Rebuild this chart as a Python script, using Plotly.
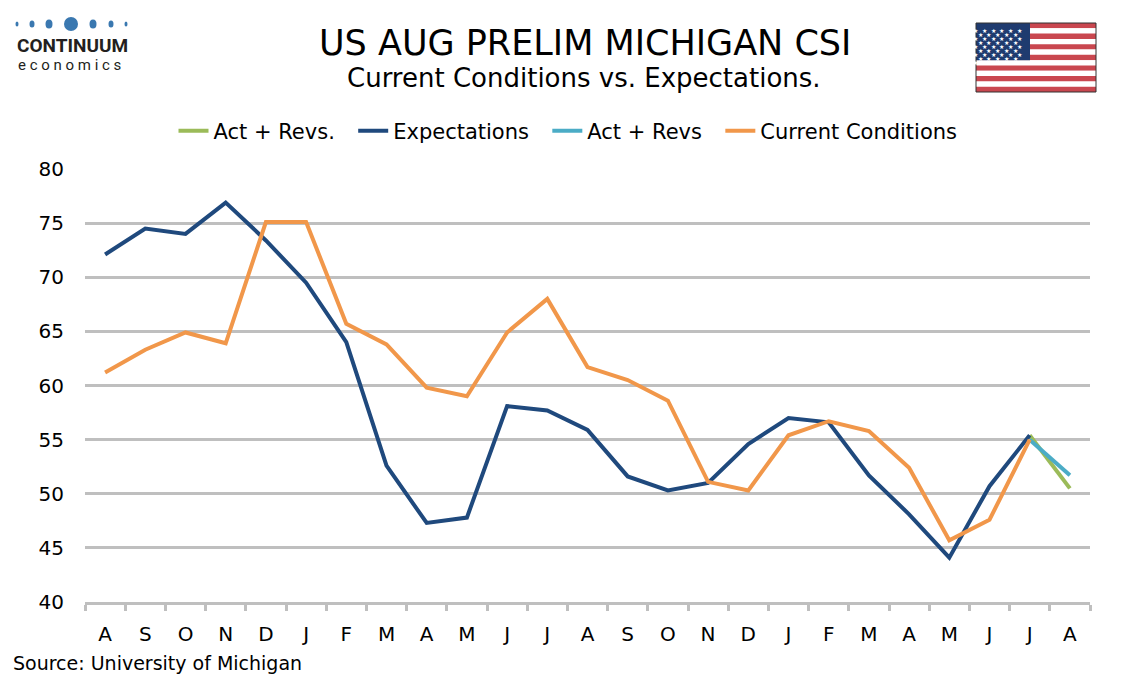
import plotly.graph_objects as go

months = ["A", "S", "O", "N", "D", "J", "F", "M", "A", "M", "J", "J",
          "A", "S", "O", "N", "D", "J", "F", "M", "A", "M", "J", "J", "A"]
expectations = [72.1, 74.5, 74.0, 76.9, 73.4, 69.5, 64.0, 52.6, 47.3, 47.8,
                58.1, 57.7, 55.9, 51.6, 50.3, 51.0, 54.6, 57.0, 56.6, 51.7,
                48.1, 44.1, 50.7, 55.4, None]
current = [61.2, 63.3, 64.9, 63.9, 75.1, 75.1, 65.7, 63.8, 59.8, 59.0,
           64.9, 68.0, 61.7, 60.5, 58.6, 51.1, 50.3, 55.4, 56.7, 55.8,
           52.4, 45.7, 47.6, 55.0, None]
act_revs_dot = [None] * 23 + [55.4, 50.5]
act_revs = [None] * 23 + [55.0, 51.7]
yticks = [40, 45, 50, 55, 60, 65, 70, 75, 80]

NAVY = "#1F497D"
ORANGE = "#F1974A"
GREEN = "#9BBB59"
LBLUE = "#4BACC6"
FONT = "DejaVu Sans"

# page body margin shifts the figure by 8px
OFF = 8
W, H = 1134 - OFF, 680 - OFF
# plot area in reference pixels
L, R, T, B = 85, 1090, 169, 602


def px(x):
    return (x - L) / (R - L)


def py(y):
    return (B - y) / (B - T)


def main():
    xs = list(range(len(months)))
    fig = go.Figure()
    fig.add_trace(go.Scatter(x=xs, y=act_revs_dot, mode="lines", name="Act + Revs.  ",
                             line=dict(color=GREEN, width=4)))
    fig.add_trace(go.Scatter(x=xs, y=expectations, mode="lines", name="Expectations  ",
                             line=dict(color=NAVY, width=4)))
    fig.add_trace(go.Scatter(x=xs, y=act_revs, mode="lines", name="Act + Revs  ",
                             line=dict(color=LBLUE, width=4)))
    fig.add_trace(go.Scatter(x=xs, y=current, mode="lines", name="Current Conditions",
                             line=dict(color=ORANGE, width=4)))

    shapes = []
    annotations = []

    # US flag (top right)
    fx0, fx1, fy0, fy1 = 976, 1096, 23, 92
    sh = (fy1 - fy0) / 13
    for i in range(13):
        shapes.append(dict(type="rect", xref="paper", yref="paper",
                           x0=px(fx0), x1=px(fx1),
                           y0=py(fy0 + i * sh), y1=py(fy0 + (i + 1) * sh),
                           fillcolor="#C9474F" if i % 2 == 0 else "white",
                           line=dict(width=0)))
    cx1, cy1 = 1030, fy0 + 7 * sh
    shapes.append(dict(type="rect", xref="paper", yref="paper",
                       x0=px(fx0), x1=px(cx1), y0=py(fy0), y1=py(cy1),
                       fillcolor="#1F3B6F", line=dict(width=0)))
    shapes.append(dict(type="rect", xref="paper", yref="paper",
                       x0=px(fx0), x1=px(fx1), y0=py(fy0), y1=py(fy1),
                       line=dict(color="#333333", width=1)))
    for r in range(9):
        n = 6 if r % 2 == 0 else 5
        off = 0 if r % 2 == 0 else 0.5
        for c in range(n):
            sx = fx0 + (cx1 - fx0) * (c + 0.5 + off) / 6.2
            sy = fy0 + (cy1 - fy0) * (r + 0.6) / 9.4
            annotations.append(dict(xref="paper", yref="paper", x=px(sx), y=py(sy),
                                    text="★", showarrow=False,
                                    font=dict(size=6, color="white", family=FONT)))

    # logo
    dots = [(17, 1.5, 2.5), (32, 2.5, 3.5), (49, 3.5, 4.5), (71, 7, 7),
            (93, 3.5, 4.5), (111, 2.5, 3.5), (126, 1.5, 2.5)]
    for dx, rx, ry in dots:
        shapes.append(dict(type="circle", xref="paper", yref="paper",
                           x0=px(dx - rx), x1=px(dx + rx),
                           y0=py(24 + ry), y1=py(24 - ry),
                           fillcolor="#3A78B0", line=dict(width=0)))
    annotations.append(dict(xref="paper", yref="paper", x=px(15), y=py(46),
                            xanchor="left", yanchor="middle", showarrow=False,
                            text="<b>CONTINUUM</b>",
                            font=dict(size=19, color="#231F20", family="Roboto")))
    annotations.append(dict(xref="paper", yref="paper", x=px(16), y=py(65),
                            xanchor="left", yanchor="middle", showarrow=False,
                            text="e c o n o m i c s",
                            font=dict(size=15, color="#231F20", family="Roboto")))

    # titles
    annotations.append(dict(xref="paper", yref="paper", x=px(585), y=py(43),
                            xanchor="center", yanchor="middle", showarrow=False,
                            text="US AUG PRELIM MICHIGAN CSI",
                            font=dict(size=35, color="black", family=FONT)))
    annotations.append(dict(xref="paper", yref="paper", x=px(584), y=py(78),
                            xanchor="center", yanchor="middle", showarrow=False,
                            text="Current Conditions vs. Expectations.",
                            font=dict(size=26, color="black", family=FONT)))
    annotations.append(dict(xref="paper", yref="paper", x=px(11), y=py(663),
                            xanchor="left", yanchor="middle", showarrow=False,
                            text="Source: University of Michigan",
                            font=dict(size=19, color="black", family=FONT)))

    fig.update_layout(
        width=W, height=H,
        margin=dict(l=L - OFF, r=1134 - R, t=T - OFF, b=680 - B),
        plot_bgcolor="white", paper_bgcolor="white",
        font=dict(family=FONT, size=20, color="black"),
        showlegend=True,
        legend=dict(orientation="h", x=px(568), y=py(131), xanchor="center",
                    yanchor="middle", font=dict(size=21), itemwidth=30,
                    tracegroupgap=0),
        shapes=shapes,
        annotations=annotations,
        xaxis=dict(range=[-0.5, len(months) - 0.5], tickvals=xs, ticktext=months,
                   ticks="", showgrid=False, zeroline=False,
                   showline=True, linecolor="#BFBFBF", linewidth=2.5,
                   tickfont=dict(size=20), ticklabelstandoff=12,
                   minor=dict(tick0=-0.5, dtick=1, ticks="outside", ticklen=6,
                              tickwidth=2.5, tickcolor="#BFBFBF", showgrid=False)),
        yaxis=dict(range=[40, 80], tickvals=yticks, showgrid=True,
                   gridcolor="#BFBFBF", gridwidth=2.5, zeroline=False,
                   showline=False, ticks="", tickfont=dict(size=20),
                   ticklabelstandoff=20),
    )
    fig.write_html("out.html")


if __name__ == "__main__":
    main()
